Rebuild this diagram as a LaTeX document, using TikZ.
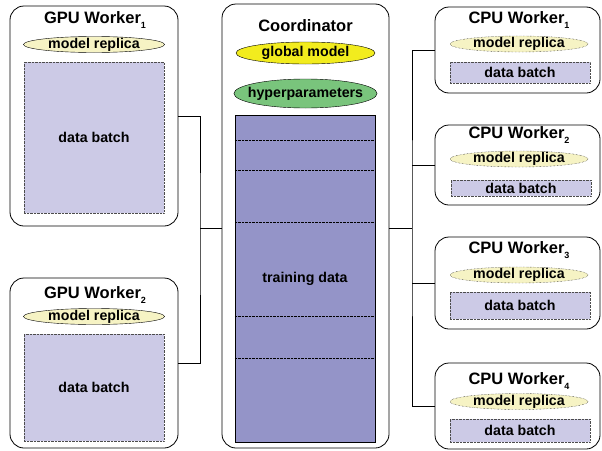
\documentclass[tikz,border=0pt]{standalone}
\usepackage{fontspec}
\setmainfont{Liberation Sans}
\usepackage{tikz}
\usetikzlibrary{shapes.geometric,positioning,calc}
\definecolor{batchfill}{HTML}{CCCAE6}
\definecolor{trainfill}{HTML}{9494C8}
\definecolor{replicafill}{HTML}{F6F3C4}
\definecolor{globalfill}{HTML}{F2EC1E}
\definecolor{hyperfill}{HTML}{79C47C}
\newcommand{\wsub}[1]{\raisebox{-0.55ex}{\fontsize{9}{9}\selectfont #1}}

\begin{document}
\begin{tikzpicture}[x=1pt,y=-1pt,
	workerbox/.style={draw,line width=0.8pt,rounded corners=14pt,fill=white,inner sep=0pt},
	titletext/.style={font=\fontsize{16.5}{19}\selectfont\bfseries,inner sep=0pt},
	labeltext/.style={font=\fontsize{14.2}{16}\selectfont\bfseries},
	oval/.style={ellipse,draw,inner xsep=-7pt,inner ysep=-3pt,labeltext},
	replica/.style={oval,fill=replicafill},
	cpureplica/.style={replica,densely dotted},
	batch/.style={draw=black!70,densely dotted,fill=batchfill,inner sep=0pt,labeltext},
	link/.style={draw,line width=0.9pt}]
	\useasboundingbox (0,0) rectangle (602,450);
	% GPU workers
	\node[workerbox,minimum width=168pt,minimum height=220pt] (gpua) at (94,116) {};
	\node[titletext] (gpuatitle) at (95,20) {GPU Worker\wsub{1}};
	\node[replica,minimum width=141pt,minimum height=16pt] (gpuarep) at (94,44.5) {model replica};
	\node[batch,minimum width=140pt,minimum height=151pt] (gpuabatch) at (94,137.5) {data batch};
	
	\node[workerbox,minimum width=168pt,minimum height=170pt] (gpub) at (94,363) {};
	\node[titletext] (gpubtitle) at (95,295) {GPU Worker\wsub{2}};
	\node[replica,minimum width=141pt,minimum height=16pt] (gpubrep) at (94,316.5) {model replica};
	\node[batch,minimum width=140pt,minimum height=107pt] (gpubbatch) at (94,387.5) {data batch};
	
	% coordinator
	\node[workerbox,minimum width=167pt,minimum height=444pt] (coord) at (305.5,226) {};
	\node[titletext] (coordtitle) at (305.5,26) {Coordinator};
	\node[oval,fill=globalfill,minimum width=139pt,minimum height=22pt] (global) at (305.5,53) {global model};
	\node[oval,fill=hyperfill,minimum width=139pt,minimum height=29pt] (hyper) at (305.5,93.5) {hyperparameters};
	\node[draw,fill=trainfill,inner sep=0pt,labeltext,minimum width=140pt,minimum height=327pt] (train) at (305,278.5) {training data};
	\draw[densely dotted] (train.west |- 0,140) -- (train.east |- 0,140);
	\draw[densely dotted] (train.west |- 0,170) -- (train.east |- 0,170);
	\draw[densely dotted] (train.west |- 0,222) -- (train.east |- 0,222);
	\draw[densely dotted] (train.west |- 0,316) -- (train.east |- 0,316);
	\draw[densely dotted] (train.west |- 0,358) -- (train.east |- 0,358);
	
	% CPU workers
	\node[workerbox,minimum width=165pt,minimum height=86pt] (cpua) at (517.5,50) {};
	\node[titletext] (cpuatitle) at (519,20) {CPU Worker\wsub{1}};
	\node[cpureplica,minimum width=138pt,minimum height=16pt] (cpuarep) at (519,44) {model replica};
	\node[batch,minimum width=140pt,minimum height=21pt] (cpuabatch) at (520,72.5) {data batch};
	
	\node[workerbox,minimum width=165pt,minimum height=80pt] (cpub) at (517.5,165) {};
	\node[titletext] (cpubtitle) at (519,135) {CPU Worker\wsub{2}};
	\node[cpureplica,minimum width=138pt,minimum height=16pt] (cpubrep) at (519,159) {model replica};
	\node[batch,minimum width=140pt,minimum height=16pt] (cpubbatch) at (521,188) {data batch};
	
	\node[workerbox,minimum width=165pt,minimum height=92pt] (cpuc) at (517.5,283) {};
	\node[titletext] (cpuctitle) at (519,250) {CPU Worker\wsub{3}};
	\node[cpureplica,minimum width=138pt,minimum height=16pt] (cpucrep) at (519,275) {model replica};
	\node[batch,minimum width=140pt,minimum height=27pt] (cpucbatch) at (520,305.5) {data batch};
	
	\node[workerbox,minimum width=165pt,minimum height=86pt] (cpud) at (517.5,406) {};
	\node[titletext] (cpudtitle) at (519,381) {CPU Worker\wsub{4}};
	\node[cpureplica,minimum width=138pt,minimum height=16pt] (cpudrep) at (519,401.5) {model replica};
	\node[batch,minimum width=140pt,minimum height=23pt] (cpudbatch) at (520,430.5) {data batch};
	
	% connections
	\coordinate (ljoin) at (200,228);
	\coordinate (rjoin) at (412,228);
	\draw[link] (gpua.east) -| (ljoin) |- (gpub.east);
	\draw[link] (ljoin) -- (coord.west |- ljoin);
	\draw[link] (coord.east |- rjoin) -- (rjoin);
	\draw[link] (cpua.west) -| (rjoin) |- (cpud.west);
	\draw[link] (rjoin |- cpub.west) -- (cpub.west);
	\draw[link] (rjoin |- cpuc.west) -- (cpuc.west);
\end{tikzpicture}
\end{document}
